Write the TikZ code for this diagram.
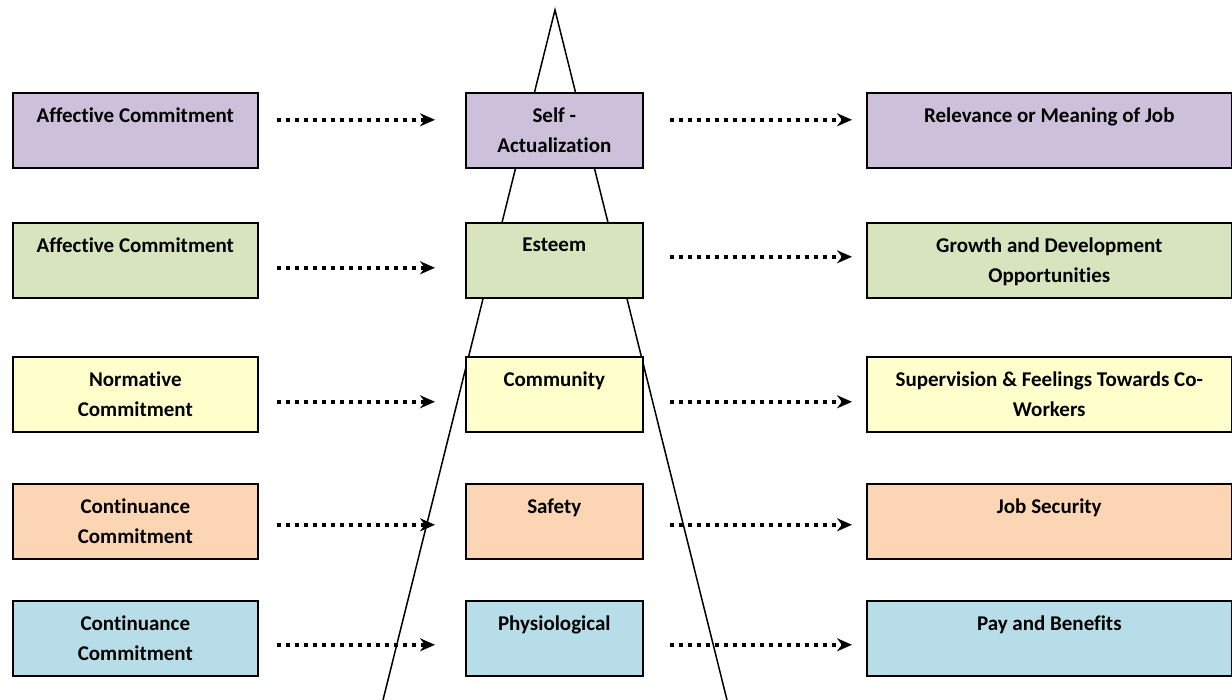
\documentclass[tikz,border=0pt]{standalone}
\usepackage{fontspec}
\setmainfont{Carlito}[Ligatures=NoCommon]
\usetikzlibrary{positioning}
\usetikzlibrary{arrows.meta,calc}
\definecolor{lvlpurple}{HTML}{CCC0DA}
\definecolor{lvlgreen}{HTML}{D7E4BD}
\definecolor{lvlyellow}{HTML}{FFFFCC}
\definecolor{lvlorange}{HTML}{FCD5B5}
\definecolor{lvlblue}{HTML}{B7DEE8}
\tikzset{
    >=Stealth, % bold arrow heads
    box/.style={draw, line width=1.6pt, anchor=north west, minimum height=75pt, inner sep=0pt},
    lbox/.style={box, minimum width=245pt},
    mbox/.style={box, minimum width=177pt},
    rbox/.style={box, minimum width=365pt},
    txt/.style={anchor=north, inner sep=0pt, align=center, font=\bfseries\fontsize{21}{30}\selectfont},
    dotarrow/.style={-{Stealth[length=15pt, width=13pt]}, line width=3.5pt, dash pattern=on 4.5pt off 4.5pt},
}

\begin{document}
\begin{tikzpicture}[x=1pt, y=-1pt]
  \useasboundingbox (0,0) rectangle (1232,700);
  % pyramid
  \coordinate (apex) at (555,10);
  \coordinate (baseL) at (383,700);
  \coordinate (baseR) at (727,700);
  \draw[line width=1.5pt] (baseL) -- (apex) -- (baseR);
  % left boxes
  \node[lbox, fill=lvlpurple] (l1) at (12,92) {};
  \node[lbox, fill=lvlgreen]  (l2) at (12,222) {};
  \node[lbox, fill=lvlyellow] (l3) at (12,356) {};
  \node[lbox, fill=lvlorange] (l4) at (12,483) {};
  \node[lbox, fill=lvlblue]   (l5) at (12,600) {};
  % middle boxes
  \node[mbox, fill=lvlpurple] (m1) at (465,92) {};
  \node[mbox, fill=lvlgreen]  (m2) at (465,222) {};
  \node[mbox, fill=lvlyellow] (m3) at (465,356) {};
  \node[mbox, fill=lvlorange] (m4) at (465,483) {};
  \node[mbox, fill=lvlblue]   (m5) at (465,600) {};
  % right boxes
  \node[rbox, fill=lvlpurple] (r1) at (866,92) {};
  \node[rbox, fill=lvlgreen]  (r2) at (866,222) {};
  \node[rbox, fill=lvlyellow] (r3) at (866,356) {};
  \node[rbox, fill=lvlorange] (r4) at (866,483) {};
  \node[rbox, fill=lvlblue]   (r5) at (866,600) {};
  % texts
  \node[txt] (l1t) at ([yshift=-16]l1.north) {Affective Commitment};
  \node[txt] (l2t) at ([yshift=-16]l2.north) {Affective Commitment};
  \node[txt] (l3t) at ([yshift=-16]l3.north) {Normative\\Commitment};
  \node[txt] (l4t) at ([yshift=-16]l4.north) {Continuance\\Commitment};
  \node[txt] (l5t) at ([yshift=-16]l5.north) {Continuance\\Commitment};
  \node[txt] (m1t) at ([yshift=-16]m1.north) {Self -\\Actualization};
  \node[txt] (m2t) at ([yshift=-16]m2.north) {Esteem};
  \node[txt] (m3t) at ([yshift=-16]m3.north) {Community};
  \node[txt] (m4t) at ([yshift=-16]m4.north) {Safety};
  \node[txt] (m5t) at ([yshift=-16]m5.north) {Physiological};
  \node[txt] (r1t) at ([yshift=-16]r1.north) {Relevance or Meaning of Job};
  \node[txt] (r2t) at ([yshift=-16]r2.north) {Growth and Development\\Opportunities};
  \node[txt] (r3t) at ([yshift=-16]r3.north) {Supervision \& Feelings Towards Co-\\Workers};
  \node[txt] (r4t) at ([yshift=-16]r4.north) {Job Security};
  \node[txt] (r5t) at ([yshift=-16]r5.north) {Pay and Benefits};
  % arrows
  \draw[dotarrow] ([xshift=18, yshift=10.5]l1.east) -- ([xshift=-30, yshift=10.5]m1.west);
  \draw[dotarrow] ([xshift=18, yshift=-7.5]l2.east) -- ([xshift=-30, yshift=-7.5]m2.west);
  \draw[dotarrow] ([xshift=18, yshift=-7.5]l3.east) -- ([xshift=-30, yshift=-7.5]m3.west);
  \draw[dotarrow] ([xshift=18, yshift=-3.5]l4.east) -- ([xshift=-30, yshift=-3.5]m4.west);
  \draw[dotarrow] ([xshift=18, yshift=-6.5]l5.east) -- ([xshift=-30, yshift=-6.5]m5.west);
  \draw[dotarrow] ([xshift=26, yshift=10.5]m1.east) -- ([xshift=-14, yshift=10.5]r1.west);
  \draw[dotarrow] ([xshift=26, yshift=3.5]m2.east) -- ([xshift=-14, yshift=3.5]r2.west);
  \draw[dotarrow] ([xshift=26, yshift=-7.5]m3.east) -- ([xshift=-14, yshift=-7.5]r3.west);
  \draw[dotarrow] ([xshift=26, yshift=-3.5]m4.east) -- ([xshift=-14, yshift=-3.5]r4.west);
  \draw[dotarrow] ([xshift=26, yshift=-6.5]m5.east) -- ([xshift=-14, yshift=-6.5]r5.west);
\end{tikzpicture}
\end{document}
